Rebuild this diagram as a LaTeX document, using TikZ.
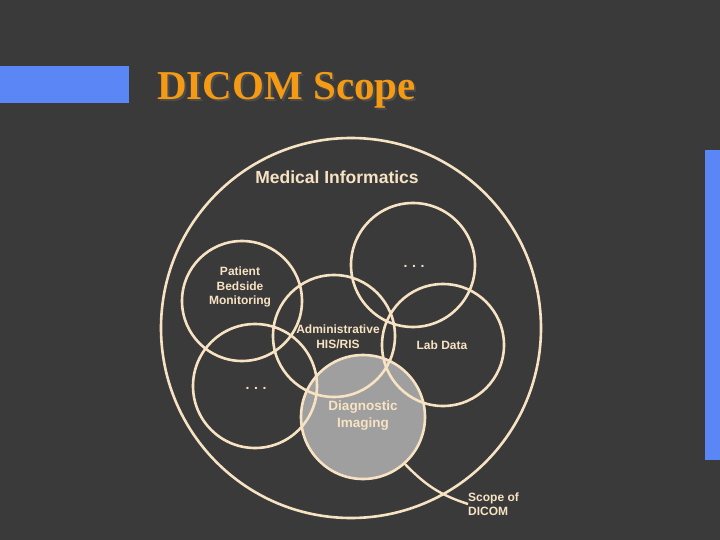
\documentclass[tikz,border=0pt]{standalone}
\usepackage{fontspec}
\setmainfont{Liberation Sans}
\newfontfamily\serifb{Liberation Serif}
\begin{document}
\begin{tikzpicture}[x=1pt,y=-1pt,
  ring/.style={draw=wheatc,line width=2.6pt},
  lbl/.style={text=wheatc,font=\bfseries\fontsize{12}{14.5}\selectfont,align=center,inner sep=0pt}]
\definecolor{wheatc}{HTML}{F7E3C3}
\definecolor{bgc}{HTML}{3A3A3A}
\definecolor{bluec}{HTML}{5B86F5}
\definecolor{orangec}{HTML}{F49A14}
\fill[bgc] (0,0) rectangle (720,540);
\useasboundingbox (0,0) rectangle (720,540);
\fill[bluec] (0,66) rectangle (129,103);
\fill[bluec] (705,150) rectangle (720,460);
\node[text=black!70,font=\serifb\bfseries\fontsize{41}{44}\selectfont,anchor=west,inner sep=0pt] at (159,92) {DICOM Scope};
\node[text=orangec,font=\serifb\bfseries\fontsize{41}{44}\selectfont,anchor=west,inner sep=0pt] (title) at (157,90) {DICOM Scope};
\fill[gray!75] (363,417) circle (62);
\draw[ring] (351,328) circle (190);
\draw[ring] (242,301) circle (60);
\draw[ring] (413,265) circle (62);
\draw[ring] (255,386) circle (62);
\draw[ring] (443,345) circle (61);
\draw[ring] (334,336) circle (61);
\draw[ring] (363,417) circle (62);
\node[lbl,font=\bfseries\fontsize{17.5}{20}\selectfont] (mi) at (337,177) {Medical Informatics};
\node[lbl] (pb) at (240,287) {Patient\\Bedside\\Monitoring};
\node[lbl,font=\bfseries\fontsize{14}{14}\selectfont] (d1) at (414,266) {.\,\,.\,\,.};
\node[lbl,font=\bfseries\fontsize{14}{14}\selectfont] (d2) at (256,388) {.\,\,.\,\,.};
\node[lbl] (adm) at (338,337) {Administrative\\HIS/RIS};
\node[lbl] (lab) at (442,345) {Lab Data};
\node[lbl,font=\bfseries\fontsize{13.5}{17}\selectfont] (dia) at (363,416) {Diagnostic\\Imaging};
\node[lbl,align=left,anchor=west] (sc) at (468,504) {Scope of\\DICOM};
\coordinate (dedge) at (404,463);
\draw[draw=wheatc,line width=2.4pt] (dedge) .. controls (425,485) and (440,495) .. (sc.west);
\end{tikzpicture}
\end{document}
